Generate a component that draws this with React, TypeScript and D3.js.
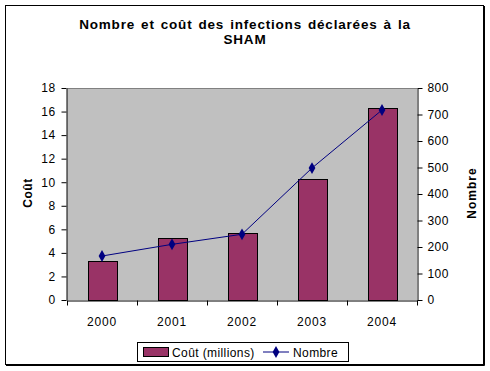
import React, { useRef, useEffect } from 'react';
import * as d3 from 'd3';

const years = ['2000', '2001', '2002', '2003', '2004'];
const cout = [3.3, 5.25, 5.7, 10.25, 16.3];
const nombre = [166, 210, 248, 498, 717];
const coutTicks = [0, 2, 4, 6, 8, 10, 12, 14, 16, 18];
const nombreTicks = [0, 100, 200, 300, 400, 500, 600, 700, 800];

const FONT = '"Liberation Sans", Arial, sans-serif';

const App = () => {
    const ref = useRef<SVGSVGElement | null>(null);

    useEffect(() => {
        if (ref.current) draw(ref.current);
    }, []);

    return (
        <svg ref={ref} width={490} height={371}
            style={{ position: 'absolute', left: 0, top: 0, background: '#fff' }} />
    );
};

function draw(el: SVGSVGElement) {
    const left = 67, right = 417, top = 88, bottom = 300;
    const svg = d3.select(el);
    svg.selectAll('*').remove();

    // outer frame
    svg.append('rect')
        .attr('x', 5.5).attr('y', 5.5)
        .attr('width', 478).attr('height', 359)
        .attr('fill', '#fff').attr('stroke', '#000').attr('stroke-width', 1);
    svg.append('path')
        .attr('d', 'M484.5,6V365.5H6')
        .attr('fill', 'none').attr('stroke', '#000').attr('stroke-width', 1);

    // title, two lines
    const titleStyle = (t: d3.Selection<SVGTextElement, unknown, null, undefined>) => t
        .attr('text-anchor', 'middle')
        .style('font-family', FONT)
        .style('font-size', '13.5px')
        .style('font-weight', 'bold')
        .style('letter-spacing', '0.8px')
        .style('word-spacing', '1.5px');
    titleStyle(svg.append('text').attr('x', 245).attr('y', 28.5))
        .text('Nombre et coût des infections déclarées à la');
    titleStyle(svg.append('text').attr('x', 245).attr('y', 44))
        .text('SHAM');

    const x = d3.scaleBand().domain(years).range([left, right]).padding(0);
    const yL = d3.scaleLinear().domain([0, 18]).range([bottom, top]);
    const yR = d3.scaleLinear().domain([0, 800]).range([bottom, top]);

    // plot area
    svg.append('rect')
        .attr('x', left).attr('y', top)
        .attr('width', right - left).attr('height', bottom - top)
        .attr('fill', '#c0c0c0');
    svg.append('line')
        .attr('x1', left).attr('x2', right).attr('y1', top + 0.5).attr('y2', top + 0.5)
        .attr('stroke', '#808080');

    // bars
    const bw = x.bandwidth() * 0.41;
    svg.selectAll('.bar')
        .data(cout)
        .enter().append('rect')
        .attr('class', 'bar')
        .attr('x', (d, i) => Math.round(x(years[i])! + x.bandwidth() / 2 - bw / 2) + 0.5)
        .attr('y', d => Math.round(yL(d)) + 0.5)
        .attr('width', Math.round(bw))
        .attr('height', d => Math.round(bottom - yL(d)))
        .attr('fill', '#993366')
        .attr('stroke', '#000')
        .attr('stroke-width', 1);

    // line
    const line = d3.line<number>()
        .x((d, i) => x(years[i])! + x.bandwidth() / 2)
        .y(d => yR(d));
    svg.append('path')
        .datum(nombre)
        .attr('d', line)
        .attr('fill', 'none')
        .attr('stroke', '#000080')
        .attr('stroke-width', 1);
    const diamond = d3.symbol().type(d3.symbolDiamond).size(40);
    svg.selectAll('.pt')
        .data(nombre)
        .enter().append('path')
        .attr('class', 'pt')
        .attr('transform', (d, i) => `translate(${x(years[i])! + x.bandwidth() / 2},${yR(d)})`)
        .attr('d', diamond)
        .attr('fill', '#000080');

    // axes
    const styleAxis = (g: d3.Selection<SVGGElement, unknown, null, undefined>) => {
        g.select('.domain').attr('stroke', '#000');
        g.selectAll('.tick line').attr('stroke', '#000');
        g.selectAll('.tick text')
            .style('font-family', FONT)
            .style('font-size', '12px')
            .style('letter-spacing', '0.4px')
            .attr('fill', '#000');
    };

    const gl = svg.append('g')
        .attr('transform', `translate(${left - 0.5},0)`)
        .call(d3.axisLeft(yL).tickValues(coutTicks).tickSize(5).tickSizeOuter(0).tickPadding(6));
    styleAxis(gl);

    const gr = svg.append('g')
        .attr('transform', `translate(${right + 0.5},0)`)
        .call(d3.axisRight(yR).tickValues(nombreTicks).tickSize(5).tickSizeOuter(0).tickPadding(5));
    styleAxis(gr);

    const gx = svg.append('g')
        .attr('transform', `translate(0,${bottom + 0.5})`)
        .call(d3.axisBottom(x).tickSize(0).tickSizeOuter(0).tickPadding(17));
    styleAxis(gx);
    gx.selectAll('.tick text').style('letter-spacing', '0.8px');
    gx.selectAll('.cat-tick')
        .data(d3.range(years.length + 1))
        .enter().append('line')
        .attr('x1', i => (i < years.length ? x(years[i])! : right) + 0.5)
        .attr('x2', i => (i < years.length ? x(years[i])! : right) + 0.5)
        .attr('y1', 0).attr('y2', 5)
        .attr('stroke', '#000');

    // axis titles
    svg.append('text')
        .attr('transform', `translate(32,193) rotate(-90)`)
        .attr('text-anchor', 'middle')
        .style('font-family', FONT)
        .style('font-size', '12px')
        .style('font-weight', 'bold')
        .style('letter-spacing', '0.5px')
        .text('Coût');
    svg.append('text')
        .attr('transform', `translate(476,193) rotate(-90)`)
        .attr('text-anchor', 'middle')
        .style('font-family', FONT)
        .style('font-size', '12px')
        .style('font-weight', 'bold')
        .style('letter-spacing', '1px')
        .text('Nombre');

    // legend
    const lg = svg.append('g');
    lg.append('rect')
        .attr('x', 137.5).attr('y', 342.5).attr('width', 211).attr('height', 19)
        .attr('fill', '#fff').attr('stroke', '#000');
    lg.append('rect')
        .attr('x', 143.5).attr('y', 347.5).attr('width', 25).attr('height', 9)
        .attr('fill', '#993366').attr('stroke', '#000');
    lg.append('text')
        .attr('x', 172).attr('y', 356.5)
        .style('font-family', FONT).style('font-size', '12px')
        .style('letter-spacing', '0.4px')
        .text('Coût (millions)');
    lg.append('line')
        .attr('x1', 263).attr('x2', 289).attr('y1', 352).attr('y2', 352)
        .attr('stroke', '#000080');
    lg.append('path')
        .attr('transform', 'translate(276,352)')
        .attr('d', diamond)
        .attr('fill', '#000080');
    lg.append('text')
        .attr('x', 293).attr('y', 356.5)
        .style('font-family', FONT).style('font-size', '12px')
        .style('letter-spacing', '0.4px')
        .text('Nombre');
}

export default App;
